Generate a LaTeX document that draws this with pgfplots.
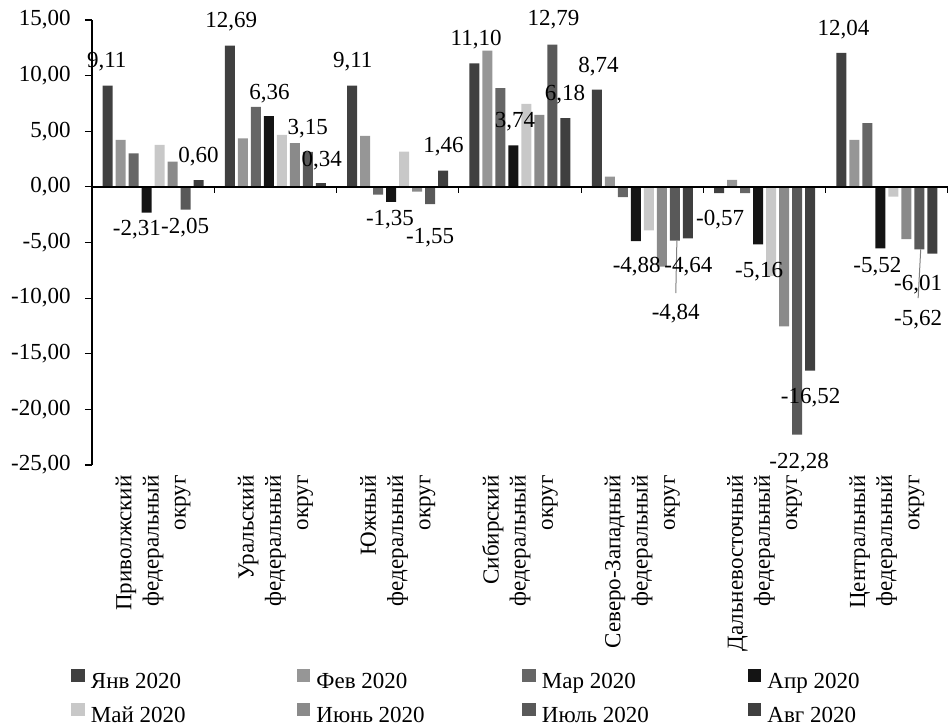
\documentclass[border=0pt]{standalone}
\usepackage{fontspec}
\setmainfont{Liberation Serif}
\usepackage{pgfplots}
\pgfplotsset{compat=1.18}
\usepackage{pgfplotstable}

\newcommand{\chartfont}{\fontsize{11.5}{13.6}\selectfont}

\definecolor{cJan}{HTML}{404040}
\definecolor{cFeb}{HTML}{969696}
\definecolor{cMar}{HTML}{666666}
\definecolor{cApr}{HTML}{141414}
\definecolor{cMay}{HTML}{C8C8C8}
\definecolor{cJun}{HTML}{8A8A8A}
\definecolor{cJul}{HTML}{595959}
\definecolor{cAug}{HTML}{3F3F3F}

% monthly change by federal district (0..6)
\pgfplotstableread{
x jan feb mar apr may jun jul aug
0 9.11 4.22 3.00 -2.31 3.77 2.27 -2.05 0.60
1 12.69 4.37 7.20 6.36 4.67 3.93 3.15 0.34
2 9.11 4.58 -0.70 -1.35 3.17 -0.42 -1.55 1.46
3 11.10 12.25 8.87 3.74 7.46 6.47 12.79 6.18
4 8.74 0.93 -0.92 -4.88 -3.92 -7.16 -4.84 -4.64
5 -0.57 0.63 -0.57 -5.16 -8.00 -12.55 -22.28 -16.52
6 12.04 4.22 5.72 -5.52 -0.87 -4.70 -5.62 -6.01
}\bars

% value labels: position and value
\pgfplotstableread{
lx ly val
-0.379 11.26 9.11
-0.133 -3.86 -2.31
0.262 -3.66 -2.05
0.371 2.72 0.60
0.638 14.85 12.69
0.951 8.42 6.36
1.265 5.27 3.15
1.379 2.36 0.34
1.632 11.26 9.11
1.937 -2.96 -1.35
2.265 -4.61 -1.55
2.374 3.62 1.46
2.641 13.27 11.10
2.960 5.87 3.74
3.273 15.00 12.79
3.369 8.27 6.18
3.641 10.81 8.74
3.955 -7.16 -4.88
4.377 -7.16 -4.64
4.274 -11.35 -4.84
4.636 -2.96 -0.57
4.955 -7.61 -5.16
5.376 -18.99 -16.52
5.282 -24.83 -22.28
5.646 14.11 12.04
5.923 -7.16 -5.52
6.256 -8.80 -6.01
6.256 -11.95 -5.62
}\labels

\begin{document}
\begin{tikzpicture}[font=\chartfont]
\begin{axis}[
  scale only axis, width=428pt, height=222.5pt,
  xmin=-0.5, xmax=6.5, ymin=-25, ymax=15,
  clip=false,
  axis y line*=left, axis x line*=bottom,
  x axis line style={draw=none},
  y axis line style={line width=0.6pt, black},
  ytick={-25,-20,...,15},
  tick align=outside, major tick length=3.5pt,
  ytick style={line width=0.6pt, black},
  xtick={0,1,2,3,4,5,6},
  xtick style={draw=none},
  xticklabels={{Приволжский\\федеральный\\округ},{Уральский\\федеральный\\округ},{Южный\\федеральный\\округ},{Сибирский\\федеральный\\округ},{Северо-Западный\\федеральный\\округ},{Дальневосточный\\федеральный\\округ},{Центральный\\федеральный\\округ}},
  xticklabel style={yshift=-1.5pt, rotate=90, anchor=east, align=right, inner sep=0pt, font=\chartfont},
  yticklabel style={/pgf/number format/.cd, fixed, fixed zerofill, precision=2, use comma, assume math mode=true, /tikz/.cd, font=\chartfont, inner sep=0pt, xshift=-7pt},
  legend columns=4,
  legend style={at={(-0.0245,-0.457)}, anchor=north west, draw=none, fill=none,
    inner sep=0pt, column sep=0pt, row sep=4.5pt, font=\chartfont,
    /tikz/every odd column/.style={column sep=3pt},
    nodes={inner sep=0pt, text height=8.5pt, text depth=2.5pt}},
  legend image code/.code={\fill[#1] (0pt,0.25pt) rectangle (6.75pt,7pt);},
]
\addplot[ybar, bar width=5pt, bar shift=-22.75pt, fill=cJan, draw=none] table[x=x, y=jan] {\bars};
\addlegendentry{\makebox[103pt][l]{Янв 2020}}
\addplot[ybar, bar width=5pt, bar shift=-16.25pt, fill=cFeb, draw=none] table[x=x, y=feb] {\bars};
\addlegendentry{\makebox[103pt][l]{Фев 2020}}
\addplot[ybar, bar width=5pt, bar shift=-9.75pt, fill=cMar, draw=none] table[x=x, y=mar] {\bars};
\addlegendentry{\makebox[103pt][l]{Мар 2020}}
\addplot[ybar, bar width=5pt, bar shift=-3.25pt, fill=cApr, draw=none] table[x=x, y=apr] {\bars};
\addlegendentry{\makebox[103pt][l]{Апр 2020}}
\addplot[ybar, bar width=5pt, bar shift=3.25pt, fill=cMay, draw=none] table[x=x, y=may] {\bars};
\addlegendentry{\makebox[103pt][l]{Май 2020}}
\addplot[ybar, bar width=5pt, bar shift=9.75pt, fill=cJun, draw=none] table[x=x, y=jun] {\bars};
\addlegendentry{\makebox[103pt][l]{Июнь 2020}}
\addplot[ybar, bar width=5pt, bar shift=16.25pt, fill=cJul, draw=none] table[x=x, y=jul] {\bars};
\addlegendentry{\makebox[103pt][l]{Июль 2020}}
\addplot[ybar, bar width=5pt, bar shift=22.75pt, fill=cAug, draw=none] table[x=x, y=aug] {\bars};
\addlegendentry{\makebox[103pt][l]{Авг 2020}}

% zero line with group separators
\draw[black, line width=0.7pt] (axis cs:-0.5,0) -- (axis cs:6.5,0);
\pgfplotsinvokeforeach{0.5,1.5,2.5,3.5,4.5,5.5,6.5}{
  \draw[black, line width=0.6pt] (axis cs:#1,0) -- ++(0pt,-3pt);
}

% leader lines for displaced labels
\draw[gray, line width=0.5pt] (axis cs:4.283,-4.84) -- (axis cs:4.274,-9.55);
\draw[gray, line width=0.5pt] (axis cs:6.277,-5.62) -- (axis cs:6.256,-10.0);

\addplot[only marks, mark=none, forget plot, point meta=explicit,
  nodes near coords={\pgfmathprintnumber[fixed, fixed zerofill, precision=2, use comma, assume math mode=true]{\pgfplotspointmeta}},
  every node near coord/.append style={anchor=center, inner sep=0pt, font=\chartfont, text=black}]
  table[x=lx, y=ly, meta=val] {\labels};
\end{axis}
\pgfresetboundingbox
\path[use as bounding box] (-46pt,-130.5pt) rectangle (428pt,232.5pt);
\end{tikzpicture}
\end{document}
